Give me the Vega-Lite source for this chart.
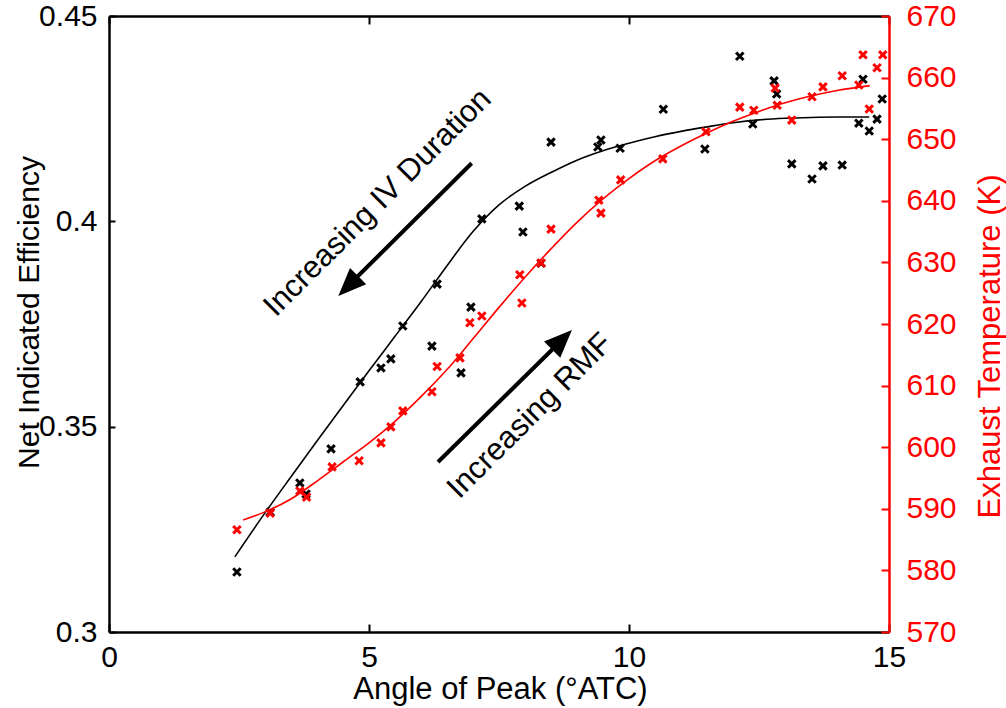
{
  "$schema": "https://vega.github.io/schema/vega-lite/v6.json",
  "width": 780,
  "height": 616,
  "autosize": {"type": "none"},
  "padding": {"left": 109, "top": 16, "right": 117, "bottom": 76},
  "background": "white",
  "config": {
    "view": {"stroke": null},
    "font": "Liberation Sans",
    "axis": {
      "grid": false,
      "labelFont": "Liberation Sans",
      "titleFont": "Liberation Sans",
      "labelFontSize": 30,
      "titleFontSize": 30,
      "titleFontWeight": "normal",
      "labelColor": "black",
      "titleColor": "black",
      "domainColor": "black",
      "tickColor": "black",
      "domainWidth": 2.5,
      "tickWidth": 2
    }
  },
  "datasets": {
    "eff": [
      {"angle": 2.46, "eff": 0.3146}, {"angle": 3.10, "eff": 0.3292}, {"angle": 3.67, "eff": 0.3363},
      {"angle": 3.79, "eff": 0.3336}, {"angle": 4.27, "eff": 0.3446}, {"angle": 4.83, "eff": 0.3609},
      {"angle": 5.23, "eff": 0.3643}, {"angle": 5.42, "eff": 0.3665}, {"angle": 5.65, "eff": 0.3745},
      {"angle": 6.21, "eff": 0.3696}, {"angle": 6.31, "eff": 0.3847}, {"angle": 6.77, "eff": 0.3631},
      {"angle": 6.96, "eff": 0.3791}, {"angle": 7.17, "eff": 0.4006}, {"angle": 7.89, "eff": 0.4037},
      {"angle": 7.96, "eff": 0.3974}, {"angle": 8.31, "eff": 0.3898}, {"angle": 8.50, "eff": 0.4193},
      {"angle": 9.40, "eff": 0.4181}, {"angle": 9.46, "eff": 0.4198}, {"angle": 9.83, "eff": 0.4178},
      {"angle": 10.66, "eff": 0.4273}, {"angle": 11.46, "eff": 0.4176}, {"angle": 12.13, "eff": 0.4402},
      {"angle": 12.38, "eff": 0.4237}, {"angle": 12.79, "eff": 0.4342}, {"angle": 12.84, "eff": 0.4310},
      {"angle": 13.13, "eff": 0.4140}, {"angle": 13.52, "eff": 0.4103}, {"angle": 13.73, "eff": 0.4135},
      {"angle": 14.10, "eff": 0.4137}, {"angle": 14.42, "eff": 0.4239}, {"angle": 14.50, "eff": 0.4346},
      {"angle": 14.62, "eff": 0.4220}, {"angle": 14.77, "eff": 0.4249}, {"angle": 14.87, "eff": 0.4298}
    ],
    "effFit": [
      {"angle": 2.42, "eff": 0.3183}, {"angle": 3.0, "eff": 0.3290}, {"angle": 3.5, "eff": 0.3378},
      {"angle": 4.0, "eff": 0.3465}, {"angle": 4.5, "eff": 0.3551}, {"angle": 5.0, "eff": 0.3636},
      {"angle": 5.5, "eff": 0.3720}, {"angle": 6.0, "eff": 0.3804}, {"angle": 6.5, "eff": 0.3892},
      {"angle": 7.0, "eff": 0.3975}, {"angle": 7.5, "eff": 0.4040}, {"angle": 8.0, "eff": 0.4085},
      {"angle": 8.5, "eff": 0.4119}, {"angle": 9.0, "eff": 0.4149}, {"angle": 9.5, "eff": 0.4172},
      {"angle": 10.0, "eff": 0.4190}, {"angle": 10.5, "eff": 0.4206}, {"angle": 11.0, "eff": 0.4219},
      {"angle": 11.5, "eff": 0.4230}, {"angle": 12.0, "eff": 0.4240}, {"angle": 12.5, "eff": 0.4247},
      {"angle": 13.0, "eff": 0.4251}, {"angle": 13.5, "eff": 0.4253}, {"angle": 14.0, "eff": 0.4254},
      {"angle": 14.62, "eff": 0.4254}
    ],
    "temp": [
      {"angle": 2.46, "temp": 586.6}, {"angle": 3.10, "temp": 589.3}, {"angle": 3.67, "temp": 592.9},
      {"angle": 3.80, "temp": 591.9}, {"angle": 4.29, "temp": 596.8}, {"angle": 4.81, "temp": 597.8},
      {"angle": 5.23, "temp": 600.7}, {"angle": 5.42, "temp": 603.3}, {"angle": 5.65, "temp": 605.9},
      {"angle": 6.21, "temp": 609.0}, {"angle": 6.31, "temp": 613.1}, {"angle": 6.75, "temp": 614.5},
      {"angle": 6.94, "temp": 620.2}, {"angle": 7.17, "temp": 621.3}, {"angle": 7.90, "temp": 628.0},
      {"angle": 7.94, "temp": 623.4}, {"angle": 8.31, "temp": 629.9}, {"angle": 8.50, "temp": 635.4},
      {"angle": 9.42, "temp": 640.1}, {"angle": 9.46, "temp": 638.0}, {"angle": 9.84, "temp": 643.4},
      {"angle": 10.65, "temp": 646.8}, {"angle": 11.48, "temp": 651.2}, {"angle": 12.13, "temp": 655.2},
      {"angle": 12.40, "temp": 654.7}, {"angle": 12.81, "temp": 658.3}, {"angle": 12.85, "temp": 655.5},
      {"angle": 13.13, "temp": 653.1}, {"angle": 13.52, "temp": 656.9}, {"angle": 13.73, "temp": 658.5},
      {"angle": 14.10, "temp": 660.3}, {"angle": 14.42, "temp": 658.8}, {"angle": 14.50, "temp": 663.7},
      {"angle": 14.62, "temp": 654.9}, {"angle": 14.77, "temp": 661.6}, {"angle": 14.88, "temp": 663.7}
    ],
    "tempFit": [
      {"angle": 2.58, "temp": 588.2}, {"angle": 3.0, "temp": 589.5}, {"angle": 3.5, "temp": 591.6},
      {"angle": 4.0, "temp": 594.5}, {"angle": 4.5, "temp": 597.6}, {"angle": 5.0, "temp": 600.7},
      {"angle": 5.5, "temp": 604.2}, {"angle": 6.0, "temp": 608.2}, {"angle": 6.5, "temp": 612.6},
      {"angle": 7.0, "temp": 617.6}, {"angle": 7.5, "temp": 622.7}, {"angle": 8.0, "temp": 627.6},
      {"angle": 8.5, "temp": 632.2}, {"angle": 9.0, "temp": 636.5}, {"angle": 9.5, "temp": 640.3},
      {"angle": 10.0, "temp": 643.6}, {"angle": 10.5, "temp": 646.5}, {"angle": 11.0, "temp": 648.9},
      {"angle": 11.5, "temp": 651.0}, {"angle": 12.0, "temp": 652.9}, {"angle": 12.5, "temp": 654.5},
      {"angle": 13.0, "temp": 655.9}, {"angle": 13.5, "temp": 657.0}, {"angle": 14.0, "temp": 657.9},
      {"angle": 14.63, "temp": 658.7}
    ],
    "arrows": [
      {"arrow": "IV", "x1": 6.974, "y1": 0.41414, "x2": 4.673, "y2": 0.38522, "hx": 4.60, "hy": 0.38425},
      {"arrow": "RMF", "x1": 6.327, "y1": 0.34139, "x2": 8.769, "y2": 0.37183, "hx": 8.712, "hy": 0.37115}
    ],
    "notes": [
      {"note": "Increasing IV Duration", "x": 5.17, "y": 0.4045},
      {"note": "Increasing RMF", "x": 8.10, "y": 0.3526}
    ]
  },
  "layer": [
    {
      "layer": [
        {
          "data": {"name": "effFit"},
          "mark": {"type": "line", "color": "black", "strokeWidth": 1.6, "interpolate": "monotone"},
          "encoding": {
            "x": {"field": "angle", "type": "quantitative", "scale": {"domain": [0, 15], "nice": false},
              "axis": {"orient": "bottom", "values": [0, 5, 10, 15], "tickSize": -8, "labelPadding": 18,
                "labelFlush": false, "title": "Angle of Peak (°ATC)", "titleFontSize": 31, "titleX": 391, "titleY": 57,
                "titleBaseline": "middle"}},
            "y": {"field": "eff", "type": "quantitative", "scale": {"domain": [0.3, 0.45], "nice": false, "zero": false},
              "axis": {"orient": "left", "values": [0.3, 0.35, 0.4, 0.45], "format": "~g", "tickSize": -6,
                "labelPadding": 18, "labelFlush": false, "title": "Net Indicated Efficiency", "titleFontSize": 30,
                "titleX": -80, "titleY": 296, "titleAngle": 270, "titleBaseline": "middle", "titleAlign": "center"}}
          }
        },
        {
          "data": {"name": "eff"},
          "mark": {"type": "point", "shape": "M-1,-1L1,1M-1,1L1,-1", "size": 56, "filled": false, "stroke": "black", "strokeWidth": 3, "opacity": 1},
          "encoding": {
            "x": {"field": "angle", "type": "quantitative"},
            "y": {"field": "eff", "type": "quantitative"}
          }
        },
        {
          "data": {"name": "arrows"},
          "mark": {"type": "rule", "color": "black", "strokeWidth": 4},
          "encoding": {
            "x": {"field": "x1", "type": "quantitative"},
            "y": {"field": "y1", "type": "quantitative"},
            "x2": {"field": "x2"},
            "y2": {"field": "y2"}
          }
        },
        {
          "data": {"name": "arrows"},
          "transform": [{"filter": "datum.arrow === 'IV'"}],
          "mark": {"type": "point", "shape": "M0,-1L-0.82,1L0.82,1Z", "size": 784, "filled": true, "color": "black", "opacity": 1, "angle": 225},
          "encoding": {
            "x": {"field": "hx", "type": "quantitative"},
            "y": {"field": "hy", "type": "quantitative"}
          }
        },
        {
          "data": {"name": "arrows"},
          "transform": [{"filter": "datum.arrow === 'RMF'"}],
          "mark": {"type": "point", "shape": "M0,-1L-0.82,1L0.82,1Z", "size": 784, "filled": true, "color": "black", "opacity": 1, "angle": 45},
          "encoding": {
            "x": {"field": "hx", "type": "quantitative"},
            "y": {"field": "hy", "type": "quantitative"}
          }
        },
        {
          "data": {"name": "notes"},
          "mark": {"type": "text", "font": "Liberation Sans", "fontSize": 31, "angle": 315, "align": "center", "baseline": "middle", "color": "black"},
          "encoding": {
            "x": {"field": "x", "type": "quantitative"},
            "y": {"field": "y", "type": "quantitative"},
            "text": {"field": "note"}
          }
        }
      ]
    },
    {
      "layer": [
        {
          "data": {"name": "tempFit"},
          "mark": {"type": "line", "color": "#ff0000", "strokeWidth": 1.6, "interpolate": "monotone"},
          "encoding": {
            "x": {"field": "angle", "type": "quantitative", "scale": {"domain": [0, 15], "nice": false},
              "axis": {"orient": "top", "values": [0, 5, 10, 15], "tickSize": -8, "labels": false, "title": null}},
            "y": {"field": "temp", "type": "quantitative", "scale": {"domain": [570, 670], "nice": false, "zero": false},
              "axis": {"orient": "right", "values": [570, 580, 590, 600, 610, 620, 630, 640, 650, 660, 670],
                "tickSize": -8, "labelPadding": 25, "labelFlush": false, "labelColor": "#ff0000", "domainColor": "#ff0000",
                "tickColor": "#ff0000", "title": "Exhaust Temperature (K)", "titleColor": "#ff0000", "titleFontSize": 31,
                "titleX": 101, "titleY": 330, "titleAngle": 270, "titleBaseline": "middle", "titleAlign": "center"}}
          }
        },
        {
          "data": {"name": "temp"},
          "mark": {"type": "point", "shape": "M-1,-1L1,1M-1,1L1,-1", "size": 56, "filled": false, "stroke": "#ff0000", "strokeWidth": 3, "opacity": 1},
          "encoding": {
            "x": {"field": "angle", "type": "quantitative"},
            "y": {"field": "temp", "type": "quantitative"}
          }
        }
      ]
    }
  ],
  "resolve": {"scale": {"y": "independent"}}
}
